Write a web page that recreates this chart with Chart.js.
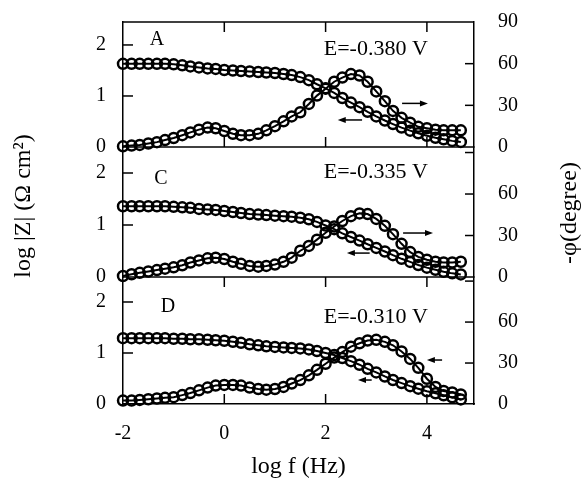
<!DOCTYPE html>
<html>
<head>
<meta charset="utf-8">
<script src="https://cdn.jsdelivr.net/npm/chart.js@4.4.1/dist/chart.umd.min.js"></script>
<style>
  body { margin: 0; background: #fff; }
  canvas { display: block; }
</style>
</head>
<body>
<canvas id="chart" width="583" height="479"></canvas>
<script>
'use strict';

// log f (Hz), 6 points per decade
var logF = [-2.00, -1.83, -1.67, -1.50, -1.33, -1.17, -1.00, -0.83, -0.67, -0.50, -0.33, -0.17,
  0.00, 0.17, 0.33, 0.50, 0.67, 0.83, 1.00, 1.17, 1.33, 1.50, 1.67, 1.83, 2.00, 2.17, 2.33, 2.50,
  2.67, 2.83, 3.00, 3.17, 3.33, 3.50, 3.67, 3.83, 4.00, 4.17, 4.33, 4.50, 4.67];

// panel A, E=-0.380 V
var zA = [1.63, 1.63, 1.63, 1.63, 1.63, 1.63, 1.62, 1.60, 1.58, 1.56, 1.54, 1.53,
  1.51, 1.50, 1.49, 1.48, 1.47, 1.46, 1.45, 1.43, 1.41, 1.37, 1.31, 1.23, 1.15, 1.06, 0.96, 0.87,
  0.78, 0.69, 0.60, 0.52, 0.45, 0.38, 0.32, 0.27, 0.22, 0.18, 0.15, 0.12, 0.10];
var phaseA = [0.5, 1, 1.5, 2.5, 3.5, 5, 6.5, 8.5, 10.5, 12.5, 14, 13.5,
  11.5, 9.5, 8.5, 8.5, 9.5, 12, 15, 18.5, 22, 25, 31, 37, 42, 47, 50, 52.5,
  51.5, 47, 40, 33, 26, 21, 17.5, 14.5, 13.5, 12.5, 12, 12, 12];

// panel C, E=-0.335 V
var zC = [1.36, 1.36, 1.36, 1.36, 1.36, 1.36, 1.35, 1.34, 1.33, 1.31, 1.30, 1.29,
  1.27, 1.25, 1.23, 1.21, 1.20, 1.19, 1.18, 1.17, 1.16, 1.14, 1.11, 1.06, 0.99, 0.92, 0.84, 0.77,
  0.70, 0.63, 0.56, 0.49, 0.42, 0.35, 0.29, 0.23, 0.18, 0.14, 0.10, 0.07, 0.05];
var phaseC = [0.7, 2, 3, 4, 5, 6, 7, 8.5, 10.5, 12, 13.5, 14,
  13, 11, 9.5, 8, 7.5, 8, 9, 11, 14, 19, 22.5, 27, 32, 36.5, 40.5, 44,
  46, 45.5, 42, 37, 31, 24, 18, 14.5, 12.5, 11, 10.5, 10.5, 11];

// panel D, E=-0.310 V
var zD = [1.29, 1.29, 1.29, 1.29, 1.29, 1.29, 1.28, 1.28, 1.27, 1.27, 1.26, 1.25,
  1.24, 1.22, 1.20, 1.17, 1.15, 1.13, 1.12, 1.11, 1.10, 1.09, 1.07, 1.04, 1.00, 0.96, 0.90, 0.84,
  0.77, 0.69, 0.62, 0.54, 0.47, 0.41, 0.35, 0.30, 0.25, 0.21, 0.17, 0.13, 0.09];
var phaseD = [2.5, 2.5, 3, 3.5, 4, 4.5, 5, 6.5, 8, 10, 12, 13.5,
  14, 14, 13.5, 12, 11, 10.5, 11, 12.5, 15, 17.5, 21, 25, 29.5, 34, 38, 42,
  44.5, 46.5, 47, 45.5, 43, 38.5, 33, 26.5, 18.5, 12.5, 9.5, 8.5, 7];

var xTicks = [-2, 0, 2, 4];
var zTicks = [0, 1, 2];
var phaseTicks = [0, 30, 60, 90];
var panelLetters = ['A', 'C', 'D'];
var potentials = ['E=-0.380 V', 'E=-0.335 V', 'E=-0.310 V'];

var serif = 'Liberation Serif';
var tickFont = { family: serif, size: 20 };

function toPoints(ys) {
  return logF.map(function (x, i) { return { x: x, y: ys[i] }; });
}

function series(ys, axisId) {
  return {
    data: toPoints(ys),
    yAxisID: axisId,
    showLine: true,
    borderWidth: 2,
    tension: 0,
    pointStyle: 'circle',
    pointRadius: 5,
    pointHoverRadius: 5,
    pointBorderWidth: 2.5,
    borderColor: '#000',
    backgroundColor: 'rgba(0,0,0,0)',
    clip: false
  };
}

function fixTicks(values) {
  return function (scale) {
    scale.ticks = values.map(function (v) { return { value: v }; });
  };
}

function leftAxis(weight, stackWeight, max) {
  return {
    type: 'linear', position: 'left', stack: 'panels', stackWeight: stackWeight, weight: weight,
    min: 0, max: max,
    afterBuildTicks: fixTicks(zTicks),
    afterFit: function (s) { s.width = 123; s.paddingTop = 0; s.paddingBottom = 0; },
    grid: { drawOnChartArea: false, drawTicks: false },
    border: { color: '#000', width: 1.5 },
    ticks: { color: '#000', padding: 17, font: tickFont, autoSkip: false }
  };
}

function rightAxis(weight, stackWeight, max, showTop) {
  return {
    type: 'linear', position: 'right', stack: 'panels', stackWeight: stackWeight, weight: weight,
    min: 0, max: max,
    afterBuildTicks: fixTicks(phaseTicks),
    afterFit: function (s) { s.width = 109; s.paddingTop = 0; s.paddingBottom = 0; },
    grid: { drawOnChartArea: false, drawTicks: false },
    border: { color: '#000', width: 1.5 },
    ticks: {
      color: '#000', padding: 24, font: tickFont, autoSkip: false,
      callback: function (v) { return (v === 90 && !showTop) ? '' : v; }
    }
  };
}

// inward ticks, frame lines, labels and arrows
function drawArrow(ctx, chart, axisId, x1, x2, yv) {
  var xs = chart.scales.x;
  var a = xs.getPixelForValue(x1);
  var b = xs.getPixelForValue(x2);
  var y = chart.scales[axisId].getPixelForValue(yv);
  var dir = b > a ? 1 : -1;
  ctx.beginPath();
  ctx.moveTo(a, y);
  ctx.lineTo(b - dir * 6, y);
  ctx.stroke();
  ctx.beginPath();
  ctx.moveTo(b, y);
  ctx.lineTo(b - dir * 8, y - 3);
  ctx.lineTo(b - dir * 8, y + 3);
  ctx.closePath();
  ctx.fill();
}

var framePlugin = {
  id: 'frame',
  afterDraw: function (chart) {
    var ctx = chart.ctx;
    var area = chart.chartArea;
    var s = chart.scales;
    var xs = s.x;
    ctx.save();
    ctx.strokeStyle = '#000';
    ctx.fillStyle = '#000';
    ctx.lineWidth = 1.5;

    [area.top, s.yA.bottom, s.yC.bottom].forEach(function (y) {
      ctx.beginPath();
      ctx.moveTo(area.left, y);
      ctx.lineTo(area.right, y);
      ctx.stroke();
    });

    ['yA', 'yC', 'yD'].forEach(function (id) {
      var sc = s[id];
      zTicks.forEach(function (v) {
        if (v <= sc.min || v >= sc.max) return;
        var y = sc.getPixelForValue(v);
        ctx.beginPath();
        ctx.moveTo(area.left, y);
        ctx.lineTo(area.left + 10, y);
        ctx.stroke();
      });
    });
    ['y2A', 'y2C', 'y2D'].forEach(function (id) {
      var sc = s[id];
      phaseTicks.forEach(function (v) {
        if (v <= sc.min || v >= sc.max) return;
        var y = sc.getPixelForValue(v);
        ctx.beginPath();
        ctx.moveTo(area.right, y);
        ctx.lineTo(area.right - 9, y);
        ctx.stroke();
      });
    });
    // x ticks on top and bottom of panels A and D
    [[s.yA.top, 1], [s.yA.bottom, -1], [s.yD.top, 1], [s.yD.bottom, -1]].forEach(function (e) {
      xTicks.forEach(function (v) {
        if (v <= xs.min || v >= xs.max) return;
        var x = xs.getPixelForValue(v);
        ctx.beginPath();
        ctx.moveTo(x, e[0]);
        ctx.lineTo(x, e[0] + e[1] * 10);
        ctx.stroke();
      });
    });

    ctx.textAlign = 'center';
    ctx.textBaseline = 'middle';
    var letterPos = [[-1.33, 2.1], [-1.25, 1.88], [-1.11, 1.9]];
    var potentialPos = [[2.99, 1.92], [2.99, 2.02], [2.99, 1.71]];
    ['yA', 'yC', 'yD'].forEach(function (id, i) {
      ctx.font = '20px "' + serif + '"';
      ctx.fillText(panelLetters[i], xs.getPixelForValue(letterPos[i][0]), s[id].getPixelForValue(letterPos[i][1]));
      ctx.font = '22px "' + serif + '"';
      ctx.fillText(potentials[i], xs.getPixelForValue(potentialPos[i][0]), s[id].getPixelForValue(potentialPos[i][1]));
    });

    drawArrow(ctx, chart, 'y2A', 3.51, 4.02, 31.4);
    drawArrow(ctx, chart, 'yA', 2.72, 2.24, 0.53);
    drawArrow(ctx, chart, 'y2C', 3.53, 4.12, 31.8);
    drawArrow(ctx, chart, 'yC', 2.87, 2.42, 0.46);
    drawArrow(ctx, chart, 'y2D', 4.3, 4.0, 32.2);
    drawArrow(ctx, chart, 'yD', 2.91, 2.64, 0.47);

    // axis titles
    ctx.font = '24px "' + serif + '"';
    ctx.fillText('log f (Hz)', (area.left + area.right) / 2, 467);
    ctx.save();
    ctx.translate(24, 206);
    ctx.rotate(-Math.PI / 2);
    ctx.fillText('log |Z| (\u03A9 cm\u00B2)', 0, 0);
    ctx.restore();
    ctx.save();
    ctx.translate(570, 213);
    ctx.rotate(-Math.PI / 2);
    ctx.fillText('-\u03C6(degree)', 0, 0);
    ctx.restore();

    ctx.restore();
  }
};

var ctx = document.getElementById('chart').getContext('2d');

var chart = new Chart(ctx, {
  type: 'scatter',
  data: {
    datasets: [
      series(zA, 'yA'), series(phaseA, 'y2A'),
      series(zC, 'yC'), series(phaseC, 'y2C'),
      series(zD, 'yD'), series(phaseD, 'y2D')
    ]
  },
  options: {
    responsive: false,
    animation: false,
    layout: { padding: { top: 22, left: 0, right: 0, bottom: 0 } },
    plugins: { legend: { display: false }, tooltip: { enabled: false } },
    scales: {
      x: {
        type: 'linear', position: 'bottom', min: -2, max: 4.93,
        afterBuildTicks: fixTicks(xTicks),
        afterFit: function (s) { s.height = 75; s.paddingLeft = 0; s.paddingRight = 0; },
        grid: { drawOnChartArea: false, drawTicks: false },
        border: { color: '#000', width: 1.5 },
        ticks: { color: '#000', padding: 18, font: tickFont, autoSkip: false, maxRotation: 0 }
      },
      yA: leftAxis(3, 125, 2.45),
      yC: leftAxis(2, 130, 2.5),
      yD: leftAxis(1, 127, 2.49),
      y2A: rightAxis(1, 125, 90, true),
      y2C: rightAxis(2, 130, 94, false),
      y2D: rightAxis(3, 127, 93, false)
    }
  },
  plugins: [framePlugin]
});
</script>
</body>
</html>
